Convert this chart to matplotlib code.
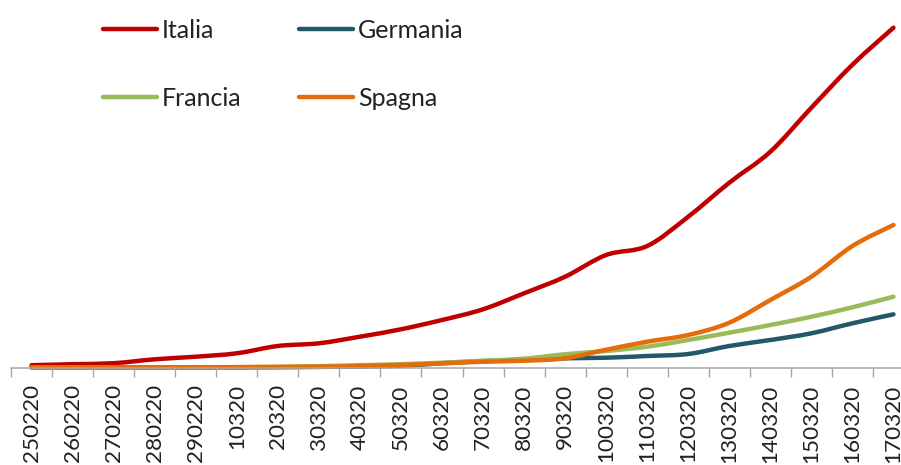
import matplotlib
matplotlib.use("Agg")
import matplotlib.pyplot as plt
from matplotlib.path import Path
from matplotlib.patches import PathPatch
from matplotlib.lines import Line2D
import numpy as np

plt.rcParams['font.family'] = ['Lato', 'DejaVu Sans']

dates = ["250220", "260220", "270220", "280220", "290220", "10320", "20320",
         "30320", "40320", "50320", "60320", "70320", "80320", "90320",
         "100320", "110320", "120320", "130320", "140320", "150320",
         "160320", "170320"]

italia = [250, 350, 450, 840, 1100, 1440, 2170, 2440, 3100, 3840, 4770,
          5840, 7440, 9100, 11270, 12170, 15100, 18500, 21600, 26000,
          30300, 34000]
germania = [30, 30, 30, 30, 30, 30, 50, 80, 120, 200, 450, 650, 800, 940,
            1000, 1170, 1370, 2170, 2770, 3440, 4440, 5340]
francia = [30, 30, 30, 30, 30, 50, 80, 150, 250, 350, 500, 700, 900, 1350,
           1670, 2100, 2770, 3500, 4270, 5100, 6040, 7100]
spagna = [40, 40, 40, 40, 40, 60, 80, 100, 170, 270, 430, 600, 700, 940,
          1800, 2600, 3270, 4500, 6770, 9100, 12170, 14270]

series = [("Italia", italia, "#C00000"),
          ("Germania", germania, "#215968"),
          ("Francia", francia, "#9BBB59"),
          ("Spagna", spagna, "#E46C0A")]

LW = 3.2


def smooth_path(xs, ys):
    """Smoothed line through the data points (Excel-style Bezier)."""
    pts = np.column_stack([xs, ys]).astype(float)
    n = len(pts)
    verts = [pts[0]]
    codes = [Path.MOVETO]
    for i in range(n - 1):
        p0 = pts[i - 1] if i > 0 else pts[i]
        p1 = pts[i]
        p2 = pts[i + 1]
        p3 = pts[i + 2] if i + 2 < n else pts[i + 1]
        c1 = p1 + (p2 - p0) / 6.0
        c2 = p2 - (p3 - p1) / 6.0
        verts += [c1, c2, p2]
        codes += [Path.CURVE4] * 3
    return Path(verts, codes)


W, H = 901, 465
fig = plt.figure(figsize=(W / 100, H / 100), dpi=100)
axis_px = 367.7
ax = fig.add_axes([11 / W, (H - axis_px) / H, 903 / W, axis_px / H])

x = np.arange(len(dates))
handles = {}
for name, vals, col in series:
    patch = PathPatch(smooth_path(x, vals), facecolor='none', edgecolor=col,
                      lw=LW, capstyle='round', joinstyle='round',
                      clip_on=False)
    ax.add_patch(patch)
    handles[name] = Line2D([], [], color=col, lw=LW,
                           solid_capstyle='round')

ax.set_xlim(-0.5, len(dates) - 0.5)
ax.set_ylim(0, axis_px * 100)

for s in ['left', 'top', 'right']:
    ax.spines[s].set_visible(False)
ax.spines['bottom'].set_color('#A6A6A6')
ax.spines['bottom'].set_linewidth(1.1)
ax.set_yticks([])

ax.set_xticks(np.arange(-0.5, len(dates), 1))
ax.set_xticklabels([])
ax.tick_params(axis='x', which='major', direction='out', length=6.5,
               width=1, color='#A6A6A6')
ax.set_xticks(x, minor=True)
ax.set_xticklabels(dates, minor=True, rotation=90, fontsize=16.2,
                   color='#222222')
ax.tick_params(axis='x', which='minor', length=0, pad=12)

order = ["Italia", "Francia", "Germania", "Spagna"]
fig.legend([handles[k] for k in order], order,
           loc='upper left', bbox_to_anchor=(103 / W, 1 - 19 / H),
           ncol=2, frameon=False, fontsize=18, borderpad=0,
           borderaxespad=0, handlelength=2.16, handletextpad=0.2,
           columnspacing=2.3, labelspacing=1.8, labelcolor='#222222')

fig.savefig("out.png", dpi=100)
